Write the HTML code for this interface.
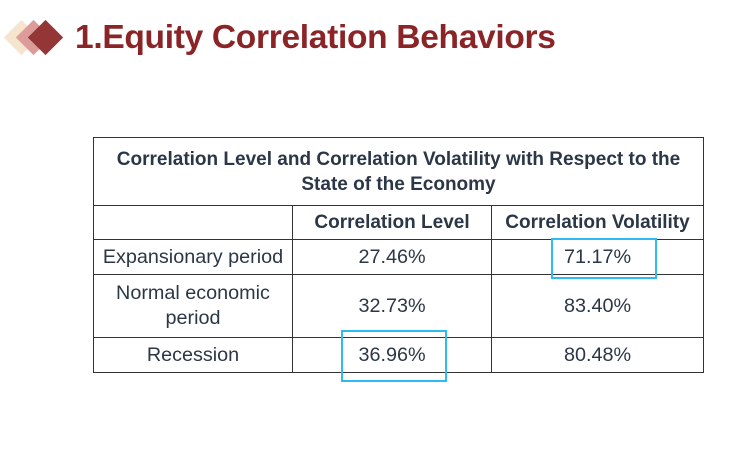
<!DOCTYPE html>
<html><head><style>
body{margin:0;width:751px;height:455px;background:#fff;position:relative;overflow:hidden;font-family:"Liberation Sans",sans-serif}
.d{position:absolute;width:25px;height:25px;transform:rotate(45deg)}
.t{position:absolute;left:75px;top:19px;font-size:33.5px;font-weight:bold;color:#8B2426;white-space:nowrap;letter-spacing:-0.3px}
table{position:absolute;left:93px;top:137px;width:611px;border-collapse:collapse;color:#2b3646;font-size:19.8px}
td{border:1.5px solid #333;text-align:center;padding:0;line-height:25px}
.h{font-weight:bold;font-size:19px}
.b{position:absolute;border:2px solid #2EBBEF}
</style></head><body>
<div class="d" style="left:9px;top:25px;background:#F6E5CE"></div>
<div class="d" style="left:21px;top:25px;background:#DD9C9A"></div>
<div class="d" style="left:33px;top:25px;background:#943636"></div>
<div class="t">1.Equity Correlation Behaviors</div>
<table>
<tr style="height:68px"><td colspan="3" class="h">Correlation Level and Correlation Volatility with Respect to the<br>State of the Economy</td></tr>
<tr style="height:34px" class="h"><td style="width:198px"></td><td style="width:198px" class="h">Correlation Level</td><td class="h">Correlation Volatility</td></tr>
<tr style="height:35px"><td>Expansionary period</td><td>27.46%</td><td>71.17%</td></tr>
<tr style="height:63px"><td>Normal economic<br>period</td><td>32.73%</td><td>83.40%</td></tr>
<tr style="height:35px"><td>Recession</td><td>36.96%</td><td>80.48%</td></tr>
</table>
<div class="b" style="left:551px;top:238px;width:102px;height:37px"></div>
<div class="b" style="left:341px;top:330px;width:102px;height:48px"></div>
</body></html>
